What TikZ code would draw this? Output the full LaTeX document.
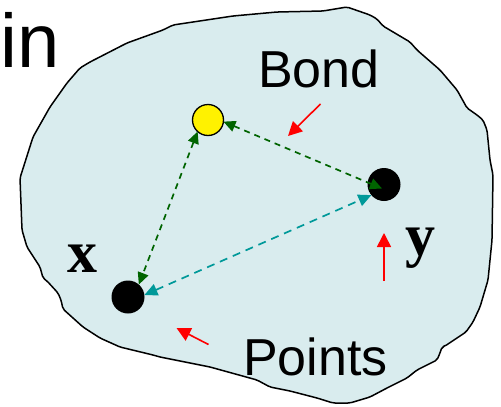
\documentclass[tikz,border=0pt]{standalone}
\usepackage{fontspec}
\setmainfont{Liberation Sans}
\newfontfamily\timesfont{Liberation Serif}
\usetikzlibrary{arrows.meta,calc}
\definecolor{blobfill}{RGB}{217,236,238}
\definecolor{bondgreen}{RGB}{0,100,0}
\definecolor{bondteal}{RGB}{0,153,153}
\tikzset{
  blob/.style={draw=black,line width=1.5pt,fill=blobfill,line join=round,rounded corners=2pt},
  blackdot/.style={circle,fill=black,minimum size=33pt,inner sep=0pt,outer sep=0pt},
  yellowdot/.style={circle,fill=yellow,draw=black,line width=1.3pt,minimum size=31pt,inner sep=0pt,outer sep=0pt},
  gbond/.style={draw=bondgreen,line width=1.7pt,dash pattern=on 6pt off 5pt,{Triangle[length=12pt,width=11pt,fill=bondgreen]}-{Triangle[length=12pt,width=11pt,fill=bondgreen]}},
  tbond/.style={draw=bondteal,line width=1.7pt,dash pattern=on 8pt off 6pt,{Triangle[length=13pt,width=12pt,fill=bondteal]}-{Triangle[length=13pt,width=12pt,fill=bondteal]}},
  redarrow/.style={draw=red,line width=1.6pt,-{Triangle[length=14pt,width=14pt,fill=red]}},
  biglabel/.style={inner sep=0pt,anchor=base west,font=\fontsize{52}{60}\selectfont},
  varlabel/.style={inner sep=0pt,anchor=base west,font=\timesfont\bfseries\fontsize{60}{70}\selectfont}
}
\begin{document}
\begin{tikzpicture}[x=1pt,y=-1pt]
\useasboundingbox (0,0) rectangle (501,407);
\path[blob] (173,25) -- (233,16) -- (277,12) -- (323,11) -- (347,7) -- (370,15) -- (377,19) -- (383,26) -- (410,42) -- (417,50) -- (440,70) -- (457,90) -- (467,108) -- (477,115) -- (483,120) -- (487,130) -- (490,160) -- (493,175) -- (492,240) -- (488,280) -- (480,307) -- (473,322) -- (466,332) -- (457,338) -- (445,346) -- (442,347) -- (440,353) -- (437,360) -- (417,370) -- (407,378) -- (387,388) -- (370,397) -- (350,403) -- (333,403) -- (317,398) -- (290,391) -- (270,387) -- (257,380) -- (210,367) -- (160,357) -- (153,355) -- (120,347) -- (100,338) -- (83,327) -- (63,309) -- (61,300) -- (58,293) -- (47,281) -- (43,278) -- (40,267) -- (27,247) -- (22,230) -- (20,178) -- (33,137) -- (50,107) -- (67,83) -- (80,68) -- (90,62) -- (127,43) -- (163,30) -- cycle;

\node[biglabel,font=\fontsize{76}{80}\selectfont] (intext) at (0,67) {in};
\node[biglabel] (bond) at (258,87) {Bond};
\node[biglabel] (points) at (243,375) {Points};
\node[varlabel] (xlab) at (67,272) {x};
\node[varlabel] (ylab) at (405,255) {y};

\node[yellowdot] (yel) at (208,120) {};
\node[blackdot] (ydot) at (384,184.5) {};
\node[blackdot] (xdot) at (128,297) {};

\draw[gbond] (yel.-6) -- ($(ydot.center)+(-2,4)$);
\draw[gbond] (yel.228) -- (xdot.49);
\draw[tbond] (xdot.7) -- (ydot.220);

\coordinate (bondtail) at (320.5,104);
\coordinate (bondtip) at (288,136);
\coordinate (ytail) at (384,281);
\coordinate (ytip) at (384,233);
\coordinate (ptail) at (208.5,344.5);
\coordinate (ptip) at (176.5,328);
\draw[redarrow] (bondtail) -- (bondtip);
\draw[redarrow] (ytail) -- (ytip);
\draw[redarrow] (ptail) -- (ptip);
\end{tikzpicture}
\end{document}
